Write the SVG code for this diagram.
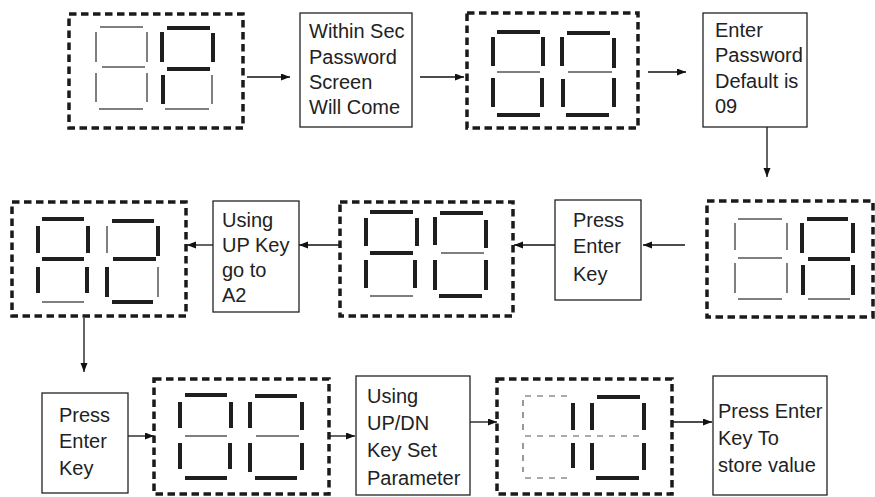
<svg xmlns="http://www.w3.org/2000/svg" width="875" height="497" viewBox="0 0 875 497">
<defs>
<marker id="ah" markerUnits="userSpaceOnUse" markerWidth="10" markerHeight="8" refX="9" refY="3.5" orient="auto">
<path d="M0,0 L9,3.5 L0,7 z" fill="#111"/>
</marker>
<style>
.dbox{fill:none;stroke:#1a1a1a;stroke-width:3.5;stroke-dasharray:7.5 4.5}
.box{fill:#fff;stroke:#222;stroke-width:1.3}
.on{stroke:#1e1e1e;stroke-width:4}
.off{stroke:#555;stroke-width:1.5}
.dsh{stroke:#555;stroke-width:1.2;stroke-dasharray:6 6}
.t{font-family:"Liberation Sans",Arial,sans-serif;font-size:20px;fill:#222}
.c{stroke:#111;stroke-width:1.3;fill:none;marker-end:url(#ah)}
</style>
</defs>
<rect width="875" height="497" fill="#fff"/>
<g id="connectors">
<line class="c" x1="247" y1="77" x2="290" y2="77"/>
<line class="c" x1="420" y1="77" x2="464" y2="77"/>
<line class="c" x1="648" y1="72" x2="686" y2="72"/>
<line class="c" x1="767" y1="122" x2="767" y2="177"/>
<line class="c" x1="685" y1="245" x2="643" y2="245"/>
<line class="c" x1="555" y1="245" x2="514" y2="245"/>
<line class="c" x1="340" y1="245" x2="299" y2="245"/>
<line class="c" x1="213" y1="245" x2="187" y2="245"/>
<line class="c" x1="84" y1="318" x2="84" y2="372"/>
<line class="c" x1="128" y1="436" x2="154" y2="436"/>
<line class="c" x1="329" y1="436" x2="355" y2="436"/>
<line class="c" x1="470" y1="422" x2="497" y2="422"/>
<line class="c" x1="672" y1="422" x2="712" y2="422"/>
</g>
<g id="disp1">
<rect class="dbox" x="69" y="14" width="174" height="114"/>
<line class="off" x1="100" y1="27" x2="143" y2="27"/>
<line class="off" x1="96" y1="32" x2="96" y2="62"/>
<line class="off" x1="147" y1="32" x2="147" y2="62"/>
<line class="off" x1="102" y1="67" x2="145" y2="67"/>
<line class="off" x1="96" y1="73" x2="96" y2="102"/>
<line class="off" x1="147" y1="73" x2="147" y2="102"/>
<line class="off" x1="99" y1="109" x2="143" y2="109"/>
<line class="on" x1="167" y1="28" x2="210" y2="28"/>
<line class="on" x1="162" y1="32" x2="162" y2="62"/>
<line class="on" x1="213" y1="33" x2="213" y2="62"/>
<line class="on" x1="167" y1="69" x2="210" y2="69"/>
<line class="on" x1="163" y1="75" x2="163" y2="104"/>
<line class="off" x1="212" y1="75" x2="212" y2="104"/>
<line class="off" x1="165" y1="109" x2="209" y2="109"/>
</g>
<g id="box-within">
<rect class="box" x="300" y="13" width="112" height="114"/>
<text class="t" x="309" y="38">Within Sec</text>
<text class="t" x="309" y="64">Password</text>
<text class="t" x="309" y="89">Screen</text>
<text class="t" x="309" y="114">Will Come</text>
</g>
<g id="disp2">
<rect class="dbox" x="467" y="13" width="171" height="115"/>
<line class="on" x1="497" y1="32" x2="540" y2="32"/>
<line class="on" x1="493" y1="37" x2="493" y2="66"/>
<line class="on" x1="543" y1="37" x2="543" y2="66"/>
<line class="off" x1="497" y1="72" x2="540" y2="72"/>
<line class="on" x1="493" y1="78" x2="493" y2="107"/>
<line class="on" x1="542" y1="78" x2="542" y2="107"/>
<line class="on" x1="497" y1="115" x2="540" y2="115"/>
<line class="on" x1="567" y1="33" x2="610" y2="33"/>
<line class="on" x1="562" y1="37" x2="562" y2="66"/>
<line class="on" x1="614" y1="38" x2="614" y2="68"/>
<line class="off" x1="568" y1="72" x2="612" y2="72"/>
<line class="on" x1="563" y1="79" x2="563" y2="107"/>
<line class="on" x1="614" y1="78" x2="614" y2="107"/>
<line class="on" x1="566" y1="115" x2="609" y2="115"/>
</g>
<g id="box-enter-pw">
<rect class="box" x="703" y="13" width="104" height="114"/>
<text class="t" x="715" y="37">Enter</text>
<text class="t" x="715" y="62">Password</text>
<text class="t" x="715" y="88">Default is</text>
<text class="t" x="715" y="113">09</text>
</g>
<g id="disp3">
<rect class="dbox" x="707" y="201" width="166" height="116"/>
<line class="off" x1="738" y1="219" x2="782" y2="219"/>
<line class="off" x1="735" y1="223" x2="735" y2="250"/>
<line class="off" x1="787" y1="223" x2="787" y2="250"/>
<line class="off" x1="738" y1="258" x2="782" y2="258"/>
<line class="off" x1="735" y1="263" x2="735" y2="293"/>
<line class="off" x1="787" y1="263" x2="787" y2="293"/>
<line class="off" x1="738" y1="299" x2="782" y2="299"/>
<line class="on" x1="807" y1="219" x2="848" y2="219"/>
<line class="on" x1="802" y1="223" x2="802" y2="253"/>
<line class="on" x1="853" y1="223" x2="853" y2="253"/>
<line class="on" x1="808" y1="259" x2="850" y2="259"/>
<line class="on" x1="803" y1="265" x2="803" y2="295"/>
<line class="on" x1="853" y1="265" x2="853" y2="295"/>
<line class="off" x1="808" y1="299" x2="850" y2="299"/>
</g>
<g id="box-press1">
<rect class="box" x="555" y="200" width="86" height="100"/>
<text class="t" x="573" y="227">Press</text>
<text class="t" x="573" y="253">Enter</text>
<text class="t" x="573" y="281">Key</text>
</g>
<g id="disp4">
<rect class="dbox" x="340" y="202" width="173" height="114"/>
<line class="on" x1="370" y1="212" x2="413" y2="212"/>
<line class="on" x1="366" y1="218" x2="366" y2="246"/>
<line class="on" x1="417" y1="218" x2="417" y2="246"/>
<line class="on" x1="370" y1="253" x2="413" y2="253"/>
<line class="on" x1="366" y1="260" x2="366" y2="288"/>
<line class="on" x1="415" y1="260" x2="415" y2="288"/>
<line class="off" x1="370" y1="296" x2="413" y2="296"/>
<line class="on" x1="440" y1="213" x2="483" y2="213"/>
<line class="on" x1="435" y1="217" x2="435" y2="245"/>
<line class="on" x1="486" y1="220" x2="486" y2="248"/>
<line class="off" x1="441" y1="253" x2="484" y2="253"/>
<line class="on" x1="435" y1="260" x2="435" y2="290"/>
<line class="on" x1="486" y1="260" x2="486" y2="290"/>
<line class="on" x1="439" y1="296" x2="482" y2="296"/>
</g>
<g id="box-using-up">
<rect class="box" x="213" y="201" width="86" height="111"/>
<text class="t" x="222" y="227">Using</text>
<text class="t" x="222" y="252">UP Key</text>
<text class="t" x="222" y="277">go to</text>
<text class="t" x="222" y="302">A2</text>
</g>
<g id="disp5">
<rect class="dbox" x="12" y="202" width="174" height="114"/>
<line class="on" x1="42" y1="219" x2="84" y2="219"/>
<line class="on" x1="38" y1="226" x2="38" y2="253"/>
<line class="on" x1="88" y1="226" x2="88" y2="253"/>
<line class="on" x1="42" y1="259" x2="84" y2="259"/>
<line class="on" x1="38" y1="267" x2="38" y2="293"/>
<line class="on" x1="87" y1="267" x2="87" y2="293"/>
<line class="off" x1="42" y1="302" x2="84" y2="302"/>
<line class="on" x1="112" y1="221" x2="154" y2="221"/>
<line class="off" x1="107" y1="226" x2="107" y2="253"/>
<line class="on" x1="158" y1="226" x2="158" y2="256"/>
<line class="on" x1="113" y1="259" x2="156" y2="259"/>
<line class="on" x1="107" y1="267" x2="107" y2="297"/>
<line class="off" x1="158" y1="267" x2="158" y2="297"/>
<line class="on" x1="112" y1="302" x2="153" y2="302"/>
</g>
<g id="box-press2">
<rect class="box" x="42" y="393" width="86" height="100"/>
<text class="t" x="59" y="422">Press</text>
<text class="t" x="59" y="448">Enter</text>
<text class="t" x="59" y="475">Key</text>
</g>
<g id="disp6">
<rect class="dbox" x="154" y="379" width="175" height="115"/>
<line class="on" x1="185" y1="395" x2="227" y2="395"/>
<line class="on" x1="180" y1="402" x2="180" y2="428"/>
<line class="on" x1="231" y1="402" x2="231" y2="428"/>
<line class="off" x1="185" y1="436" x2="227" y2="436"/>
<line class="on" x1="180" y1="443" x2="180" y2="469"/>
<line class="on" x1="230" y1="443" x2="230" y2="469"/>
<line class="on" x1="185" y1="478" x2="227" y2="478"/>
<line class="on" x1="255" y1="396" x2="297" y2="396"/>
<line class="on" x1="250" y1="402" x2="250" y2="428"/>
<line class="on" x1="302" y1="402" x2="302" y2="430"/>
<line class="off" x1="256" y1="436" x2="299" y2="436"/>
<line class="on" x1="250" y1="443" x2="250" y2="472"/>
<line class="on" x1="302" y1="443" x2="302" y2="470"/>
<line class="on" x1="255" y1="478" x2="297" y2="478"/>
</g>
<g id="box-using-updn">
<rect class="box" x="356" y="376" width="114" height="119"/>
<text class="t" x="367" y="403">Using</text>
<text class="t" x="367" y="430">UP/DN</text>
<text class="t" x="367" y="457">Key Set</text>
<text class="t" x="367" y="485">Parameter</text>
</g>
<g id="disp7">
<rect class="dbox" x="497" y="379" width="175" height="115"/>
<line class="dsh" x1="525" y1="396" x2="568" y2="396"/>
<line class="dsh" x1="523" y1="400" x2="523" y2="432"/>
<line class="dsh" x1="525" y1="436" x2="642" y2="436"/>
<line class="dsh" x1="523" y1="443" x2="523" y2="472"/>
<line class="dsh" x1="525" y1="478" x2="568" y2="478"/>
<line class="on" x1="573" y1="403" x2="573" y2="430"/>
<line class="on" x1="573" y1="443" x2="573" y2="468"/>
<line class="on" x1="592" y1="403" x2="592" y2="430"/>
<line class="on" x1="592" y1="443" x2="592" y2="470"/>
<line class="on" x1="597" y1="397" x2="640" y2="397"/>
<line class="on" x1="644" y1="403" x2="644" y2="430"/>
<line class="on" x1="644" y1="443" x2="644" y2="470"/>
<line class="on" x1="596" y1="478" x2="639" y2="478"/>
</g>
<g id="box-store">
<rect class="box" x="713" y="376" width="114" height="119"/>
<text class="t" x="718" y="418">Press Enter</text>
<text class="t" x="718" y="445">Key To</text>
<text class="t" x="718" y="472">store value</text>
</g>
</svg>
